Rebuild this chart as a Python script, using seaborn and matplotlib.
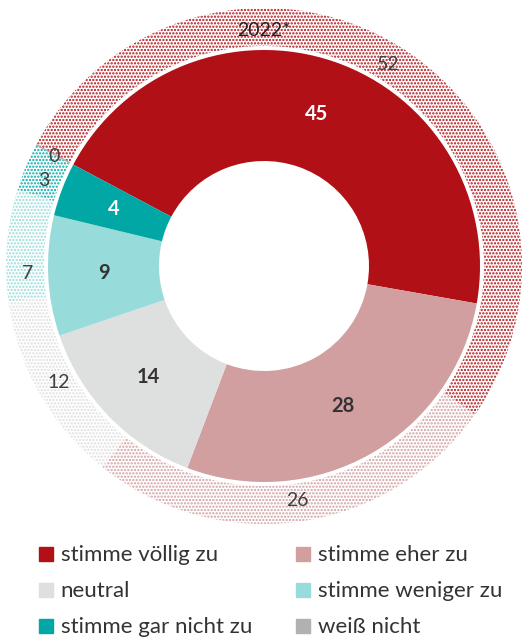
import matplotlib
matplotlib.use("Agg")
import matplotlib.pyplot as plt
import seaborn as sns
import numpy as np
from matplotlib.lines import Line2D

# data
categories = ["stimme völlig zu", "stimme eher zu", "neutral",
              "stimme weniger zu", "stimme gar nicht zu", "weiß nicht"]
values_now = [45, 28, 14, 9, 4, 0]
values_2022 = [52, 26, 12, 7, 3, 0]
colors = ["#B01016", "#D19FA0", "#DEDFDF", "#97DBDA", "#00A7A5", "#B1B1B3"]
label_colors_now = ["white", "#333333", "#333333", "#333333", "white", "#333333"]

sns.set_style("white")
plt.rcParams["font.family"] = ["Lato", "DejaVu Sans"]
plt.rcParams["hatch.linewidth"] = 1.1

fig = plt.figure(figsize=(5.29, 6.4), dpi=100)
# center (264, 266) px, outer radius 258 px
cx, cy, R = 264, 266, 258
ax = fig.add_axes([(cx - R) / 529, (640 - cy - R) / 640, 2 * R / 529, 2 * R / 640])

start = 152

# outer ring (2022*), dotted
r_out, w_out = 1.0, 38 / R
wedges_out, _ = ax.pie(values_2022, radius=r_out, startangle=start, counterclock=False,
                       colors=["white"] * 6,
                       wedgeprops=dict(width=w_out, linewidth=0))
for wdg, c in zip(wedges_out, colors):
    wdg.set_edgecolor(c)
    wdg.set_hatch(".....")
wedges_out[-1].set_edgecolor("#B1B1B3")
wedges_out[-1].set_linewidth(1)

# inner ring, solid
r_in, w_in = 216 / R, 111 / R
wedges_in, _ = ax.pie(values_now, radius=r_in, startangle=start, counterclock=False,
                      colors=colors, wedgeprops=dict(width=w_in, linewidth=0))

ax.set_xlim(-1, 1)
ax.set_ylim(-1, 1)
ax.set_aspect("equal")
ax.axis("off")

# labels
def mid_angles(vals):
    cum = np.cumsum([0] + vals)
    return [np.deg2rad(start - (cum[i] + vals[i] / 2) * 3.6) for i in range(len(vals))]

for ang, v, tc in zip(mid_angles(values_now), values_now, label_colors_now):
    if v == 0:
        continue
    rr = r_in - w_in / 2
    ax.text(rr * np.cos(ang), rr * np.sin(ang), str(v), ha="center", va="center",
            fontsize=14.5, fontweight="bold", color=tc)

outer_adj = [0, 0, 0, 6.5, 1.5, 0.5]
for ang, v, adj in zip(mid_angles(values_2022), values_2022, outer_adj):
    a = ang + np.deg2rad(adj)
    rr = r_out - w_out / 2 - 0.01
    ax.text(rr * np.cos(a), rr * np.sin(a), str(v), ha="center", va="center",
            fontsize=14, color="#404040")

ax.text(0, (266 - 30) / R, "2022*", ha="center", va="center", fontsize=14, color="#222222")

# legend, filled row by row
order = [0, 2, 4, 1, 3, 5]
handles = [Line2D([0], [0], marker="s", linestyle="", markersize=10,
                  markerfacecolor=colors[i], markeredgecolor=colors[i]) for i in order]
fig.legend(handles, [categories[i] for i in order], ncol=2, loc="upper left",
           bbox_to_anchor=(0.035, 0.179),
           frameon=False, fontsize=16, handlelength=0.7, handletextpad=0.3,
           columnspacing=1.95, labelspacing=0.72, labelcolor="#333333")

fig.savefig("out.png", dpi=100)
